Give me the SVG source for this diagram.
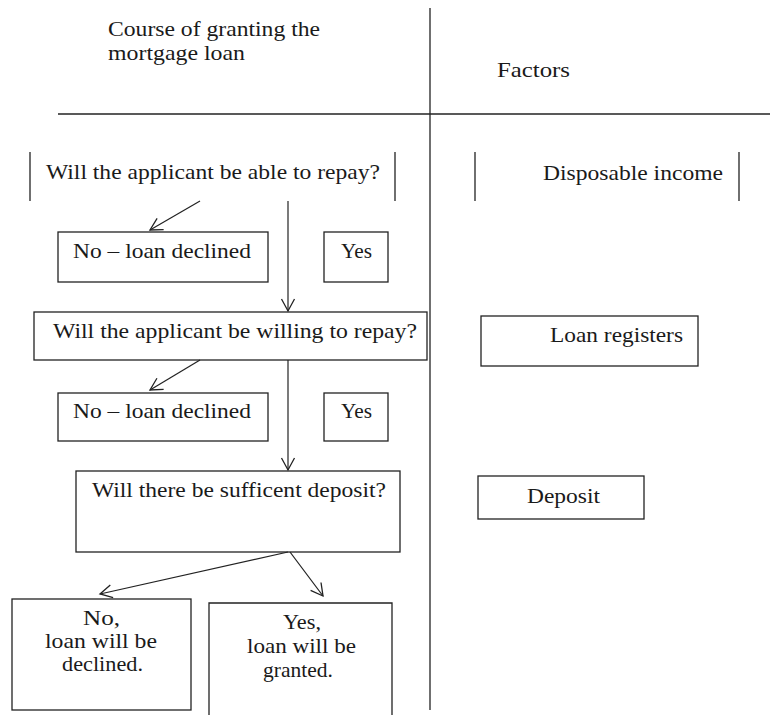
<svg xmlns="http://www.w3.org/2000/svg" width="770" height="715" viewBox="0 0 770 715">
<defs>
<style>
text{font-family:"Liberation Serif","DejaVu Serif","Times New Roman",serif;font-size:21px;fill:#1a1a1a}
.b{fill:#fff;stroke:#222;stroke-width:1.3}
.l{stroke:#222;stroke-width:1.3;fill:none}
.c{stroke:#222;stroke-width:1.2;fill:none}
</style>
<marker id="ah" markerWidth="16" markerHeight="16" refX="13" refY="8" orient="auto" markerUnits="userSpaceOnUse">
<path d="M1,1.5 L13,8 L1,14.5" fill="none" stroke="#222" stroke-width="1.3"/>
</marker>
</defs>
<rect width="770" height="715" fill="#fff"/>
<g id="frame">
<line class="l" x1="430" y1="8" x2="430" y2="710"/>
<line class="l" x1="58" y1="114" x2="770" y2="114"/>
<text x="108" y="36" textLength="212" lengthAdjust="spacingAndGlyphs">Course of granting the</text>
<text x="108" y="60" textLength="137" lengthAdjust="spacingAndGlyphs">mortgage loan</text>
<text x="497" y="77" textLength="73" lengthAdjust="spacingAndGlyphs">Factors</text>
</g>
<g id="q1">
<line class="l" x1="30" y1="152" x2="30" y2="201"/>
<line class="l" x1="395" y1="152" x2="395" y2="201"/>
<text x="46" y="179" textLength="334" lengthAdjust="spacingAndGlyphs">Will the applicant be able to repay?</text>
</g>
<g id="no1"><rect class="b" x="58" y="232" width="210" height="50"/><text x="73" y="258" textLength="178" lengthAdjust="spacingAndGlyphs">No – loan declined</text></g>
<g id="yes1"><rect class="b" x="324" y="232" width="64" height="50"/><text x="341" y="258" textLength="31" lengthAdjust="spacingAndGlyphs">Yes</text></g>
<g id="q2"><rect class="b" x="34" y="312" width="393" height="48"/><text x="53" y="338" textLength="364" lengthAdjust="spacingAndGlyphs">Will the applicant be willing to repay?</text></g>
<g id="no2"><rect class="b" x="58" y="393" width="210" height="48"/><text x="73" y="418" textLength="178" lengthAdjust="spacingAndGlyphs">No – loan declined</text></g>
<g id="yes2"><rect class="b" x="324" y="393" width="64" height="48"/><text x="341" y="418" textLength="31" lengthAdjust="spacingAndGlyphs">Yes</text></g>
<g id="q3"><rect class="b" x="76" y="471" width="324" height="81"/><text x="92" y="497" textLength="294" lengthAdjust="spacingAndGlyphs">Will there be sufficent deposit?</text></g>
<g id="noFinal"><rect class="b" x="12" y="599" width="179" height="111"/>
<text x="83" y="625" textLength="37" lengthAdjust="spacingAndGlyphs">No,</text>
<text x="45" y="648" textLength="112" lengthAdjust="spacingAndGlyphs">loan will be</text>
<text x="62" y="671" textLength="81" lengthAdjust="spacingAndGlyphs">declined.</text></g>
<g id="yesFinal"><path class="l" d="M209,718 V603 H392 V718" fill="#fff"/>
<text x="283" y="629" textLength="38" lengthAdjust="spacingAndGlyphs">Yes,</text>
<text x="247" y="653" textLength="109" lengthAdjust="spacingAndGlyphs">loan will be</text>
<text x="263" y="677" textLength="70" lengthAdjust="spacingAndGlyphs">granted.</text></g>
<g id="f1">
<line class="l" x1="475" y1="152" x2="475" y2="201"/>
<line class="l" x1="739" y1="152" x2="739" y2="201"/>
<text x="543" y="180" textLength="180" lengthAdjust="spacingAndGlyphs">Disposable income</text>
</g>
<g id="f2"><rect class="b" x="481" y="316" width="217" height="50"/><text x="550" y="342" textLength="133" lengthAdjust="spacingAndGlyphs">Loan registers</text></g>
<g id="f3"><rect class="b" x="478" y="476" width="166" height="43"/><text x="527" y="503" textLength="73" lengthAdjust="spacingAndGlyphs">Deposit</text></g>
<g id="connectors">
<line class="c" x1="200" y1="201" x2="150" y2="230" marker-end="url(#ah)"/>
<line class="c" x1="288" y1="201" x2="288" y2="311" marker-end="url(#ah)"/>
<line class="c" x1="200" y1="360" x2="150" y2="390" marker-end="url(#ah)"/>
<line class="c" x1="288" y1="360" x2="288" y2="470" marker-end="url(#ah)"/>
<line class="c" x1="288" y1="552" x2="100" y2="594" marker-end="url(#ah)"/>
<line class="c" x1="290" y1="552" x2="323" y2="596" marker-end="url(#ah)"/>
</g>
</svg>
